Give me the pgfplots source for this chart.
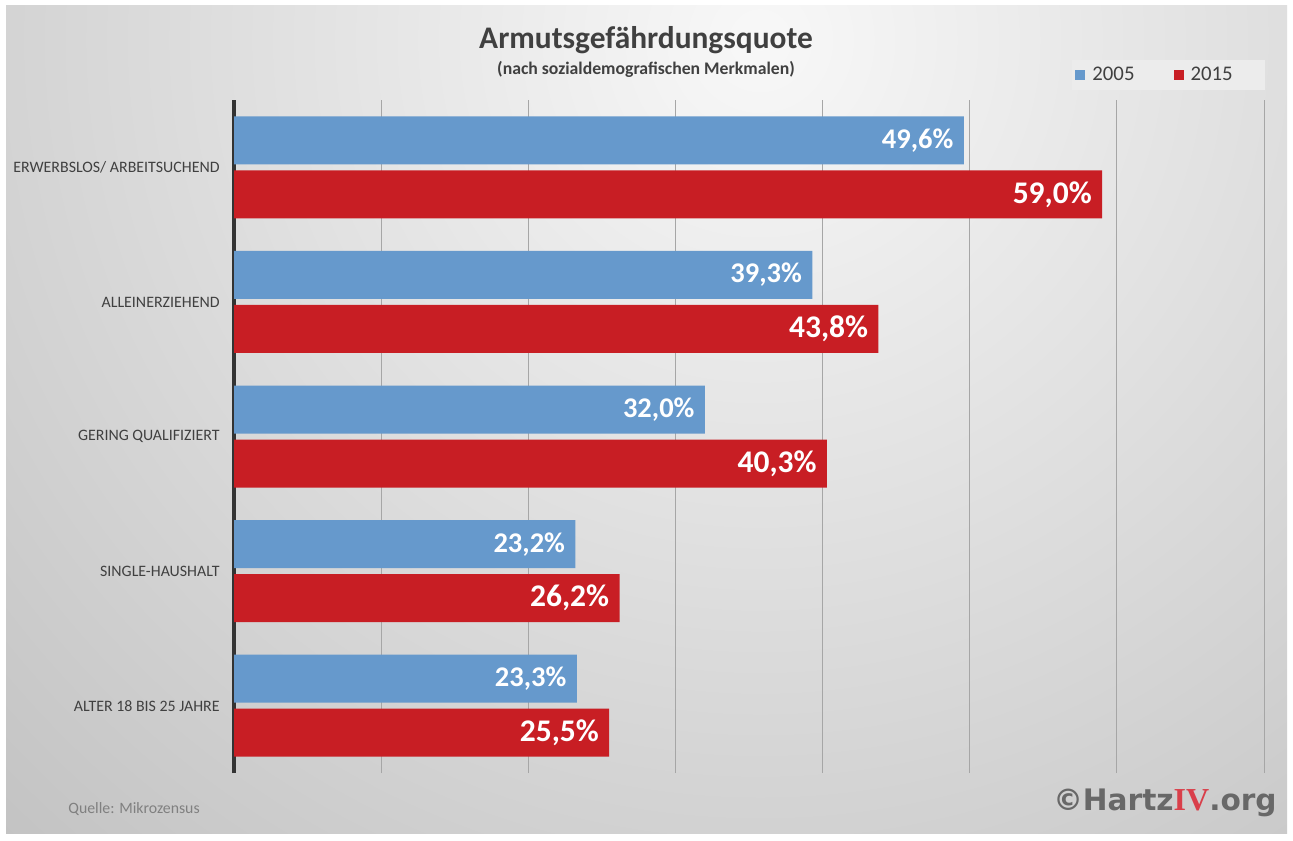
\documentclass[border=0pt]{standalone}
\usepackage{fontspec}
\setmainfont{Carlito}
\newfontfamily\wmsans{DejaVu Sans}
\newfontfamily\wmserif{Liberation Serif}
\usepackage{pgfplots}
\pgfplotsset{compat=1.18}
\definecolor{bar05}{HTML}{6699CC}
\definecolor{bar15}{HTML}{C81E24}
\definecolor{txt}{HTML}{404040}
\definecolor{axc}{HTML}{333333}
\definecolor{gridc}{HTML}{A6A6A6}
\definecolor{bgin}{HTML}{F8F8F8}
\definecolor{bgout}{HTML}{C2C2C2}
\definecolor{legbg}{HTML}{ECECEC}
\definecolor{srcgray}{HTML}{808080}
\definecolor{wmgray}{HTML}{686868}
\definecolor{wmred}{HTML}{D93F4A}
\begin{document}
\begin{tikzpicture}
% background, 1 px of the reference = 0.5pt
\begin{scope}[x=0.5pt,y=-0.5pt,yshift=420pt]
  \useasboundingbox (0,0) rectangle (1293,840);
  \fill[white] (0,0) rectangle (1293,840);
  \begin{scope}
    \clip (6,6) rectangle (1287,833);
    \shade[inner color=bgin, outer color=bgout] (760,40) circle (1120);
  \end{scope}
  \fill[legbg] (1072,60) rectangle (1265,90);
  \node[font=\bfseries\fontsize{15.7}{19}\selectfont, text=txt] at (646,40) {Armutsgefährdungsquote};
  \node[font=\bfseries\fontsize{8.85}{10}\selectfont, text=txt] at (646,69) {(nach sozialdemografischen Merkmalen)};
  \node[font=\fontsize{7.9}{10}\selectfont, text=srcgray, anchor=west, inner sep=0pt] at (68,809) {Quelle: Mikrozensus};
  \node[anchor=east, inner sep=0pt] at (1277,803)
    {\wmsans\bfseries\fontsize{14.8}{16}\selectfont\color{wmgray}©Hartz{\wmserif\fontsize{16}{16}\selectfont\color{wmred}IV}.org};
\end{scope}

\begin{axis}[
  at={(117pt,33.5pt)}, anchor=south west,
  scale only axis, width=515pt, height=336.5pt,
  xbar, bar width=24pt,
  xmin=0, xmax=70, ymin=-0.5, ymax=4.5,
  axis line style={draw=none},
  xtick={10,20,...,70}, xticklabels={},
  extra x ticks={0}, extra x tick labels={},
  extra x tick style={grid style={axc, line width=2pt}},
  xmajorgrids, grid style={gridc, line width=0.5pt},
  major tick length=0pt,
  ytick={0,...,4},
  yticklabels={ALTER 18 BIS 25 JAHRE, SINGLE-HAUSHALT, GERING QUALIFIZIERT, ALLEINERZIEHEND, ERWERBSLOS/ ARBEITSUCHEND},
  yticklabel style={font=\fontsize{7.95}{9}\selectfont, text=txt, inner sep=0pt, xshift=-7pt},
  point meta=explicit symbolic,
  nodes near coords,
  every node near coord/.append style={anchor=east, text=white, inner sep=0pt, xshift=-5pt},
  legend columns=2,
  legend style={at={(0.8165,1.0371)}, anchor=west, draw=none, fill=none, inner sep=0pt,
    font=\fontsize{10.4}{12}\selectfont, text=txt, nodes={inner sep=0pt},
    /tikz/every odd column/.append style={column sep=3.5pt},
    /tikz/every even column/.append style={column sep=19.5pt}},
  every axis plot/.append style={legend image code/.code={\fill[##1] (0pt,-2.5pt) rectangle (5pt,2.5pt);}},
]
\addplot[fill=bar05, draw=none, bar shift=13.5pt,
  every node near coord/.append style={font=\bfseries\fontsize{14.25}{16}\selectfont}]
  coordinates {(23.3,0) [23,3\%] (23.2,1) [23,2\%] (32.0,2) [32,0\%] (39.3,3) [39,3\%] (49.6,4) [49,6\%]};
\addlegendentry{2005}
\addplot[fill=bar15, draw=none, bar shift=-13.5pt,
  every node near coord/.append style={font=\bfseries\fontsize{15.75}{18}\selectfont}]
  coordinates {(25.5,0) [25,5\%] (26.2,1) [26,2\%] (40.3,2) [40,3\%] (43.8,3) [43,8\%] (59.0,4) [59,0\%]};
\addlegendentry{2015}
\end{axis}
\end{tikzpicture}
\end{document}
